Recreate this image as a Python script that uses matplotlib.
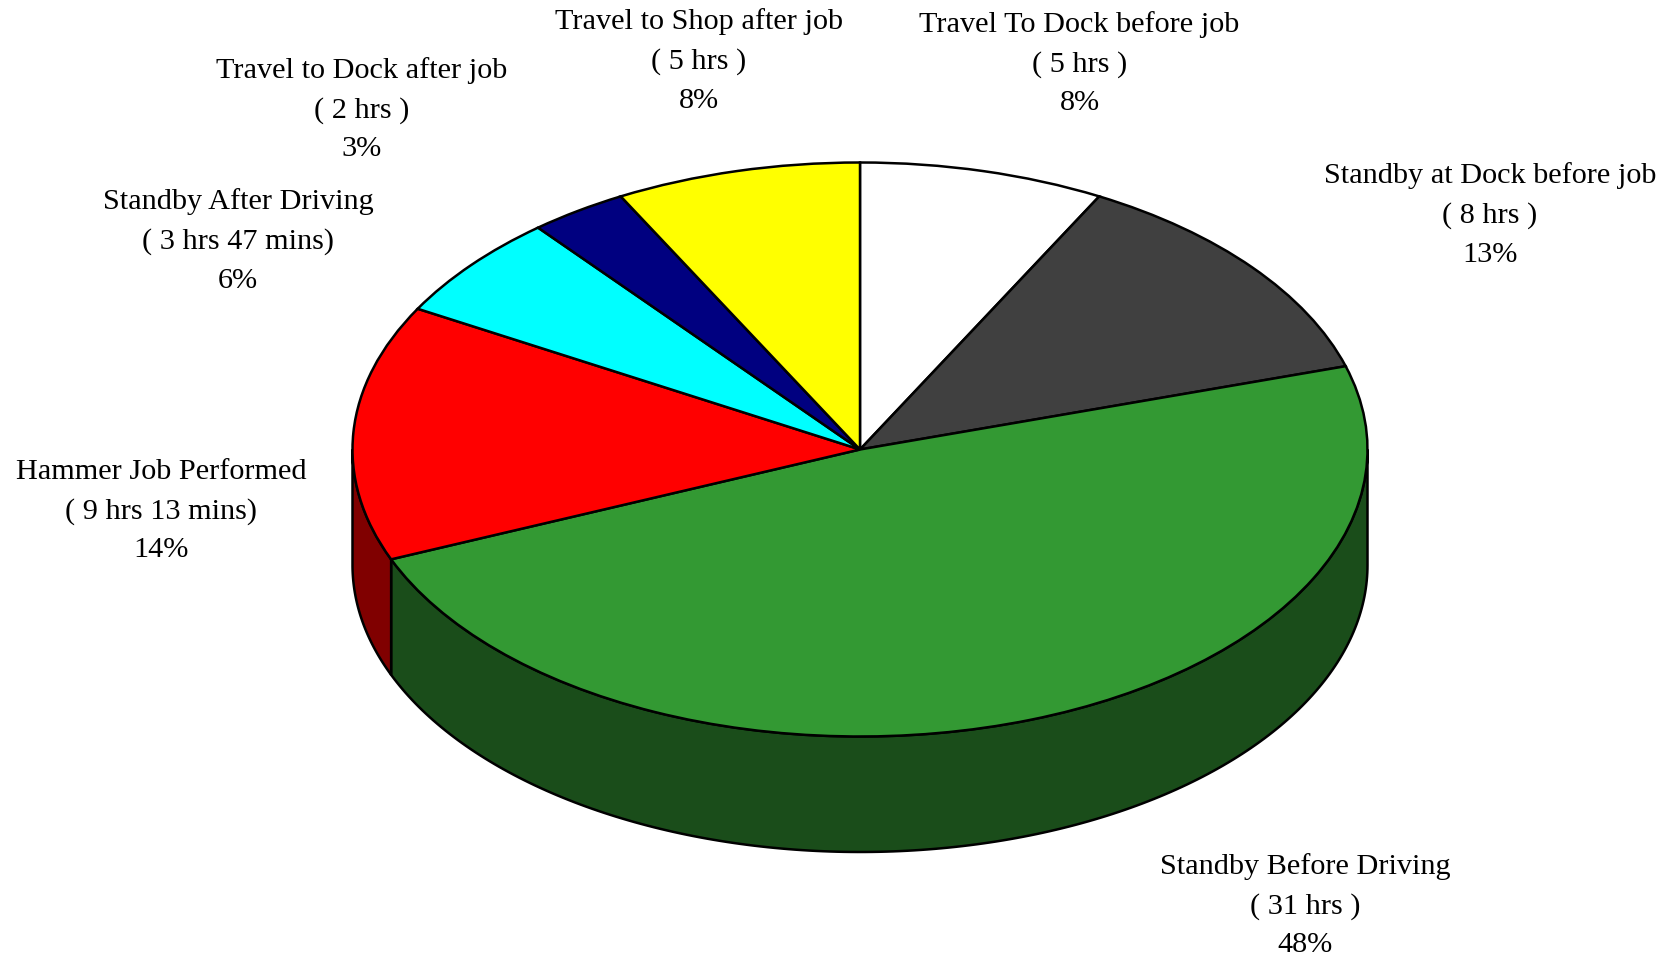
"""Time breakdown pie, drawn with a fake 3D wall under the top surface."""

import matplotlib
matplotlib.use("Agg")
import matplotlib.pyplot as pl
import numpy as np

pl.rcParams["font.family"] = ["Liberation Serif", "DejaVu Serif"]

# clockwise from 12 o'clock
names = ["Travel To Dock before job", "Standby at Dock before job", "Standby Before Driving",
         "Hammer Job Performed", "Standby After Driving", "Travel to Dock after job",
         "Travel to Shop after job"]
durations = ["( 5 hrs )", "( 8 hrs )", "( 31 hrs )", "( 9 hrs 13 mins)", "( 3 hrs 47 mins)",
             "( 2 hrs )", "( 5 hrs )"]
percents = ["8%", "13%", "48%", "14%", "6%", "3%", "8%"]
hours = [5, 8, 31, 9.22, 3.78, 2, 5]

top_colours = ["#ffffff", "#404040", "#339933", "#ff0000", "#00ffff", "#000080", "#ffff00"]
wall_colours = ["#808080", "#202020", "#1a4d1a", "#800000", "#008080", "#000040", "#808000"]

# label block centres, in pixels of the 1677x957 image
label_x = [1079.5, 1490, 1305, 161, 238, 362, 699]
label_y = [63.5, 215, 905.5, 511, 241, 109.5, 61]

W, H = 1677, 957
cx, cy = 860, 449.5      # centre of the top ellipse
rx, ry = 507.5, 287
depth = 115.5

fig = pl.figure(figsize=(W / 100, H / 100), dpi=100)
ax = fig.add_axes([0, 0, 1, 1])

ax.pie(hours, colors=top_colours, startangle=90, counterclock=False, radius=1,
       wedgeprops={"edgecolor": "black", "linewidth": 1.8, "zorder": 3})
ax.set_aspect("auto")
ax.set_xlim(-cx / rx, (W - cx) / rx)
ax.set_ylim((cy - H) / ry, cy / ry)
ax.axis("off")

# side wall: only the part of each slice facing the viewer
wall = depth / ry
edges = 90 - np.cumsum([0] + hours) / np.sum(hours) * 360
for i in range(len(hours)):
    # edges run 90 down to -270, so the front half is -180..0
    a0, a1 = edges[i + 1], edges[i]
    lo, hi = max(a0, -180), min(a1, 0)
    if hi <= lo:
        continue
    t = np.radians(np.linspace(lo, hi, 200))
    xs = np.cos(t)
    ys = np.sin(t)
    ax.fill(np.r_[xs, xs[::-1]], np.r_[ys, ys[::-1] - wall], facecolor=wall_colours[i],
            edgecolor="black", linewidth=1.8, zorder=2)

for i in range(len(names)):
    fig.text(label_x[i] / W, 1 - label_y[i] / H,
             names[i] + "\n" + durations[i] + "\n" + percents[i],
             ha="center", va="center", fontsize=21.8, linespacing=1.63, color="black")

fig.savefig("out.png", dpi=100, facecolor="white")
